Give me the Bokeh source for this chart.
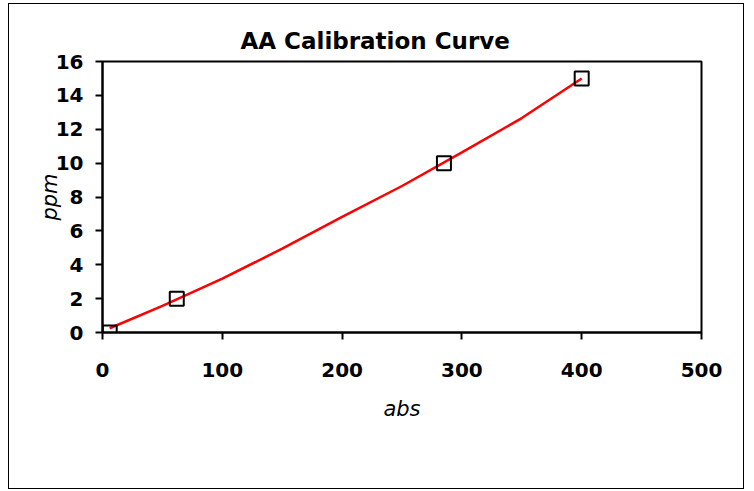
from bokeh.plotting import figure
from bokeh.embed import file_html
from bokeh.resources import INLINE
from bokeh.models import Range1d, FixedTicker

# Calibration standards (absorbance reading vs concentration)
abs_values = [6, 62, 285, 400]
ppm_values = [0, 2, 10, 15]

# Calibration curve
curve_abs = [6, 50, 100, 150, 200, 250, 300, 350, 400]
curve_ppm = [0.25, 1.57, 3.18, 4.95, 6.83, 8.65, 10.63, 12.66, 15.0]

x_ticks = [0, 100, 200, 300, 400, 500]
y_ticks = [0, 2, 4, 6, 8, 10, 12, 14, 16]

FONT = "DejaVu Sans"

p = figure(width=736, height=486, output_backend="svg", toolbar_location=None,
           x_range=Range1d(0, 500), y_range=Range1d(0, 16),
           min_border_left=93, min_border_right=44, min_border_top=57, min_border_bottom=158)

p.styles = {"border": "1px solid black", "margin-left": "8px", "margin-top": "3px"}

p.title.text = "AA Calibration Curve"
p.title.text_font = FONT
p.title.text_font_style = "bold"
p.title.text_font_size = "23px"
p.title.text_color = "black"
p.title.align = "left"
p.title.offset = 138
p.title.standoff = 15

p.xgrid.visible = False
p.ygrid.visible = False
p.outline_line_color = "black"
p.outline_line_width = 2
p.background_fill_color = "white"
p.border_fill_color = "white"

for ax in (p.xaxis[0], p.yaxis[0]):
    ax.axis_line_width = 2
    ax.axis_line_color = "black"
    ax.major_tick_line_width = 2
    ax.major_tick_in = 0
    ax.major_tick_out = 7
    ax.minor_tick_line_color = None
    ax.major_label_text_font = FONT
    ax.major_label_text_font_style = "bold"
    ax.major_label_text_font_size = "20px"
    ax.major_label_text_color = "black"
    ax.axis_label_text_font = FONT
    ax.axis_label_text_font_style = "italic"
    ax.axis_label_text_font_size = "21px"
    ax.axis_label_text_color = "black"

p.xaxis[0].ticker = FixedTicker(ticks=x_ticks)
p.yaxis[0].ticker = FixedTicker(ticks=y_ticks)
p.xaxis[0].axis_label = "abs"
p.yaxis[0].axis_label = "ppm"
p.xaxis[0].major_label_standoff = 23
p.yaxis[0].major_label_standoff = 12
p.xaxis[0].axis_label_standoff = 17
p.yaxis[0].axis_label_standoff = -9

p.line(curve_abs, curve_ppm, line_color="red", line_width=2.5)
p.scatter(abs_values, ppm_values, marker="square", size=14,
          fill_color=None, line_color="black", line_width=2)

open("out.html", "w").write(file_html(p, INLINE))
